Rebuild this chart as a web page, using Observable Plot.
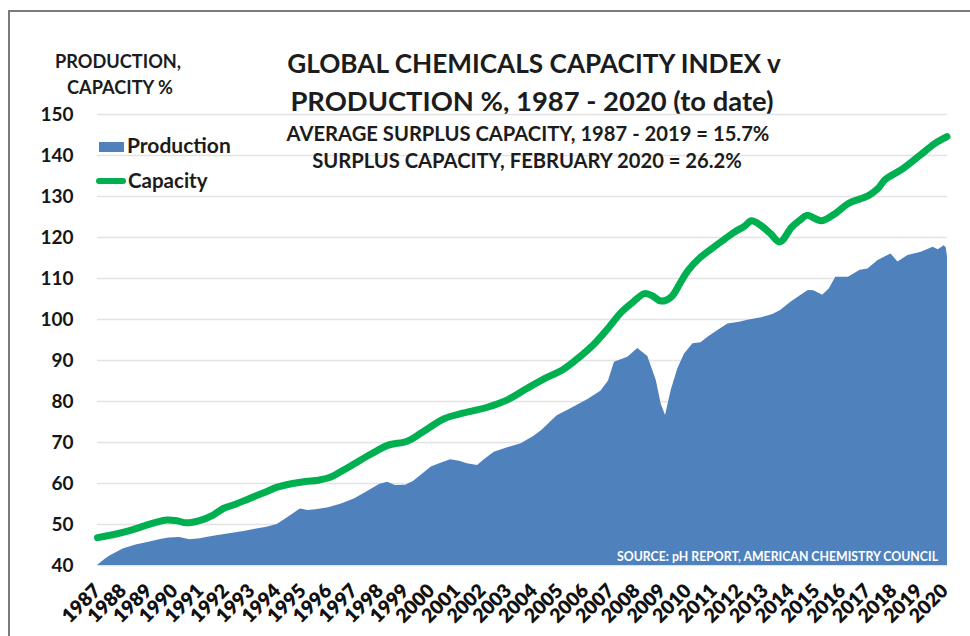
<!DOCTYPE html>
<html><head><meta charset="utf-8">
<script src="https://cdn.jsdelivr.net/npm/d3@7"></script>
<script src="https://cdn.jsdelivr.net/npm/@observablehq/plot@0.6"></script>
<style>
html,body{margin:0;padding:0;background:#fff;}
#wrap{position:relative;width:970px;height:636px;overflow:hidden;font-family:Lato,"Open Sans",sans-serif;font-weight:700;color:#1c1c1c;}
#frame{position:absolute;left:8px;top:10px;width:1000px;height:700px;border:2px solid #7a7a7a;box-sizing:border-box;}
.t{position:absolute;white-space:nowrap;line-height:1;}
.c{position:absolute;white-space:nowrap;line-height:1;text-align:center;}
#chart{position:absolute;left:0;top:100px;}
#chart svg{overflow:visible;}
</style></head>
<body><div id="wrap">
<div id="frame"></div>
<div class="t" style="left:55px;top:52px;font-size:18.2px;">PRODUCTION,</div>
<div class="t" style="left:67px;top:78px;font-size:18.2px;">CAPACITY %</div>
<div class="c" style="left:234px;width:600px;top:50px;font-size:26.2px;">GLOBAL CHEMICALS CAPACITY INDEX v</div>
<div class="c" style="left:232px;width:600px;top:87px;font-size:27.4px;">PRODUCTION %, 1987 - 2020 (to date)</div>
<div id="chart"></div>
<div class="c" style="left:228px;width:600px;top:123px;font-size:20.2px;">AVERAGE SURPLUS CAPACITY, 1987 - 2019 = 15.7%</div>
<div class="c" style="left:227px;width:600px;top:150px;font-size:20.2px;">SURPLUS CAPACITY, FEBRUARY 2020 = 26.2%</div>
<div style="position:absolute;left:99px;top:142px;width:25px;height:10px;background:#4f81bd;"></div>
<div class="t" style="left:127px;top:134px;font-size:21px;">Production</div>
<div style="position:absolute;left:96px;top:178px;width:30px;height:6px;border-radius:3px;background:#00b050;"></div>
<div class="t" style="left:128px;top:170px;font-size:20.5px;">Capacity</div>
<div class="t" style="left:617px;top:551px;font-size:12.3px;color:#fff;">SOURCE: pH REPORT, AMERICAN CHEMISTRY COUNCIL</div>
</div>
<script>
// Production index (decimal year, value)
const prodYear = [1987.0,1987.3,1987.5,1988.0,1988.5,1989.0,1989.5,1989.8,1990.2,1990.6,1991.0,1991.3,1991.7,1992.2,1992.7,1993.2,1993.6,1994.0,1994.3,1994.6,1994.9,1995.2,1995.5,1996.0,1996.5,1997.0,1997.5,1998.0,1998.3,1998.6,1999.0,1999.3,1999.7,2000.0,2000.4,2000.75,2001.1,2001.4,2001.8,2002.1,2002.45,2003.0,2003.5,2004.0,2004.3,2004.9,2005.45,2006.1,2006.6,2006.9,2007.13,2007.65,2008.04,2008.43,2008.76,2008.95,2009.12,2009.34,2009.6,2009.86,2010.19,2010.5,2010.8,2011.16,2011.55,2012.0,2012.33,2012.86,2013.3,2013.6,2014.0,2014.3,2014.68,2014.9,2015.24,2015.5,2015.75,2016.24,2016.7,2017.0,2017.4,2017.9,2018.17,2018.56,2019.08,2019.54,2019.74,2019.97,2020.05,2020.1];
const prodValue = [40.0,41.5,42.4,44.0,45.0,45.7,46.4,46.7,46.8,46.3,46.5,46.9,47.3,47.8,48.3,48.9,49.3,50.0,51.2,52.5,53.8,53.4,53.6,54.1,55.0,56.2,58.0,59.8,60.3,59.5,59.6,60.5,62.5,64.0,65.0,65.8,65.4,64.8,64.4,66.0,67.6,68.8,69.7,71.5,72.9,76.5,78.3,80.5,82.5,85.0,89.6,90.8,92.9,91.0,85.1,79.4,76.6,82.7,88.0,91.6,94.1,94.3,95.8,97.3,98.9,99.3,99.8,100.4,101.2,102.2,104.2,105.5,107.1,107.0,105.9,107.5,110.3,110.3,112.0,112.3,114.4,116.0,114.0,115.6,116.4,117.6,117.0,118.0,117.5,115.2];
// Capacity index (decimal year, value)
const capYear = [1987.0,1987.6,1988.25,1988.8,1989.3,1989.7,1990.1,1990.46,1991.0,1991.5,1991.9,1992.4,1992.9,1993.5,1994.0,1994.6,1995.1,1995.6,1996.06,1996.5,1997.0,1997.6,1998.3,1999.06,1999.6,2000.5,2001.27,2002.18,2002.96,2003.7,2004.5,2005.05,2005.6,2006.35,2006.9,2007.4,2007.9,2008.3,2008.6,2008.95,2009.34,2009.7,2010.0,2010.45,2010.9,2011.4,2011.8,2012.2,2012.47,2012.86,2013.2,2013.57,2014.03,2014.35,2014.62,2015.2,2015.72,2016.24,2017.02,2017.4,2017.67,2018.32,2018.98,2019.6,2020.08];
const capValue = [46.8,47.5,48.5,49.6,50.6,51.1,50.9,50.4,51.0,52.3,53.9,55.0,56.3,57.8,59.1,60.0,60.5,60.8,61.5,63.0,64.8,67.0,69.3,70.3,72.3,75.8,77.2,78.6,80.4,83.1,85.9,87.5,90.0,94.1,98.0,101.8,104.5,106.3,105.8,104.5,105.5,109.0,112.0,115.0,117.2,119.5,121.3,122.8,124.1,122.8,121.0,118.9,122.5,124.2,125.4,124.1,125.8,128.3,130.2,132.0,134.1,136.6,139.8,142.9,144.6];
const xTickYears = d3.range(1987, 2021);
const yTicks = [40,50,60,70,80,90,100,110,120,130,140,150];

const production = prodYear.map((t, i) => ({t, v: prodValue[i]}));
const capacity = capYear.map((t, i) => ({t, v: capValue[i]}));

const chart = Plot.plot({
  width: 970,
  height: 536,
  marginLeft: 97,
  marginRight: 23,
  marginTop: 14,
  marginBottom: 71,
  style: {fontFamily: "Lato, 'Open Sans', sans-serif", fontWeight: "700", fontSize: "19px", color: "#161616", background: "transparent"},
  x: {domain: [1987, 2020.1], ticks: xTickYears, tickFormat: d => String(d), tickRotate: -45, tickSize: 0, tickPadding: 22, label: null},
  y: {domain: [40, 150], ticks: yTicks, tickSize: 0, tickPadding: 24, label: null},
  marks: [
    Plot.ruleY(yTicks, {stroke: "#e3e3e3", strokeWidth: 1.5}),
    Plot.areaY(production, {x: "t", y1: yTicks[0], y2: "v", fill: "#4f81bd"}),
    Plot.line(capacity, {x: "t", y: "v", stroke: "#00b050", strokeWidth: 7, curve: "catmull-rom", strokeLinecap: "round", strokeLinejoin: "round"})
  ]
});
document.getElementById("chart").appendChild(chart);
// enlarge the rotated year labels (heavy, crowded like the original)
d3.select(chart).selectAll("text")
  .filter(function () { return /^\d{4}$/.test(this.textContent.trim()); })
  .attr("font-size", 19.5)
  .style("font-size", "19.5px")
  .style("font-weight", "800")
  .style("fill", "#111");
</script>
</body></html>
